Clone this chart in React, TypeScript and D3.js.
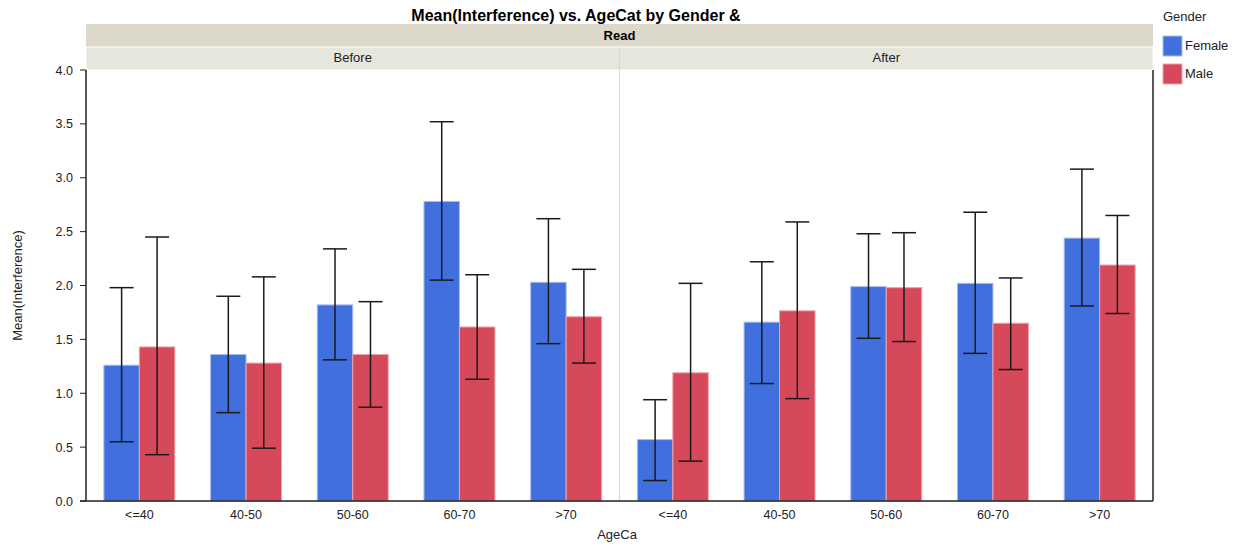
import React from "react";
import * as d3 from "d3";

const ageCats = ["<=40", "40-50", "50-60", "60-70", ">70"];
const panels = ["Before", "After"];
const genders = ["Female", "Male"];

// mean, upper, lower per age category
const beforeFemale = [1.26, 1.36, 1.82, 2.78, 2.03];
const beforeFemaleHi = [1.98, 1.9, 2.34, 3.52, 2.62];
const beforeFemaleLo = [0.55, 0.82, 1.31, 2.05, 1.46];
const beforeMale = [1.43, 1.28, 1.36, 1.615, 1.71];
const beforeMaleHi = [2.45, 2.08, 1.85, 2.1, 2.15];
const beforeMaleLo = [0.43, 0.49, 0.87, 1.13, 1.28];

const afterFemale = [0.57, 1.66, 1.99, 2.02, 2.44];
const afterFemaleHi = [0.94, 2.22, 2.48, 2.68, 3.08];
const afterFemaleLo = [0.19, 1.09, 1.51, 1.37, 1.81];
const afterMale = [1.19, 1.765, 1.98, 1.65, 2.19];
const afterMaleHi = [2.02, 2.59, 2.49, 2.07, 2.65];
const afterMaleLo = [0.37, 0.95, 1.48, 1.22, 1.74];

const yTicks = [0, 0.5, 1, 1.5, 2, 2.5, 3, 3.5, 4];

const colors: Record<string, string> = { Female: "#4170de", Male: "#d6495a" };

type Row = { panel: string; age: string; gender: string; mean: number; hi: number; lo: number };

const rows: Row[] = [];
ageCats.forEach((age, i) => {
  rows.push({ panel: "Before", age, gender: "Female", mean: beforeFemale[i], hi: beforeFemaleHi[i], lo: beforeFemaleLo[i] });
  rows.push({ panel: "Before", age, gender: "Male", mean: beforeMale[i], hi: beforeMaleHi[i], lo: beforeMaleLo[i] });
  rows.push({ panel: "After", age, gender: "Female", mean: afterFemale[i], hi: afterFemaleHi[i], lo: afterFemaleLo[i] });
  rows.push({ panel: "After", age, gender: "Male", mean: afterMale[i], hi: afterMaleHi[i], lo: afterMaleLo[i] });
});

const font = "'Liberation Sans', Arial, sans-serif";

export default function App() {
  const width = 1246;
  const height = 547;
  const left = 86;
  const right = 1153;
  const top = 70;
  const bottom = 501;

  const yScale = d3.scaleLinear().domain([0, 4]).range([bottom, top]);
  const panelScale = d3.scaleBand().domain(panels).range([left, right]);
  const xScale = d3
    .scaleBand()
    .domain(ageCats)
    .range([0, panelScale.bandwidth()])
    .paddingInner(0.335)
    .paddingOuter(0.1675);
  const gScale = d3.scaleBand().domain(genders).range([0, xScale.bandwidth()]);
  const capW = 24;

  return (
    <svg width={width} height={height} style={{ position: "absolute", left: 0, top: 0 }} fontFamily={font}>
      <rect width={width} height={height} fill="#fff" />
      {/* title */}
      <text x={576} y={21} textAnchor="middle" fontSize={16} fontWeight="bold" fill="#000">
        Mean(Interference) vs. AgeCat by Gender &amp;
      </text>
      {/* strip headers */}
      <rect x={left} y={24} width={right - left} height={23} fill="#dcd9ca" />
      <text x={(left + right) / 2} y={40} textAnchor="middle" fontSize={13} fontWeight="bold" fill="#000">
        Read
      </text>
      {panels.map((p) => (
        <g key={p}>
          <rect x={panelScale(p)!} y={47} width={panelScale.bandwidth()} height={23} fill="#e6e6dd" stroke="#fff" strokeWidth={1} />
          <text x={panelScale(p)! + panelScale.bandwidth() / 2} y={62} textAnchor="middle" fontSize={13} fill="#222">
            {p}
          </text>
        </g>
      ))}
      {/* panel separator */}
      <line x1={panelScale("After")!} x2={panelScale("After")!} y1={47} y2={bottom} stroke="#d8d8d8" strokeWidth={1} />
      {/* bars */}
      {rows.map((r, i) => {
        const x = panelScale(r.panel)! + xScale(r.age)! + gScale(r.gender)!;
        const cx = x + gScale.bandwidth() / 2;
        return (
          <g key={i}>
            <rect
              x={x}
              y={yScale(r.mean)}
              width={gScale.bandwidth()}
              height={yScale(0) - yScale(r.mean)}
              fill={colors[r.gender]}
              stroke={r.gender === "Female" ? "#a9bdf0" : "#eba3ac"}
              strokeWidth={1}
            />
            <g stroke="#1a1a1a" strokeWidth={1.5}>
              <line x1={cx} x2={cx} y1={yScale(r.hi)} y2={yScale(r.lo)} />
              <line x1={cx - capW / 2} x2={cx + capW / 2} y1={yScale(r.hi)} y2={yScale(r.hi)} />
              <line x1={cx - capW / 2} x2={cx + capW / 2} y1={yScale(r.lo)} y2={yScale(r.lo)} />
            </g>
          </g>
        );
      })}
      {/* axes frame */}
      <line x1={left} x2={left} y1={top} y2={bottom} stroke="#222" strokeWidth={1.5} />
      <line x1={left - 6} x2={right} y1={bottom} y2={bottom} stroke="#222" strokeWidth={1.5} />
      <line x1={right} x2={right} y1={top} y2={bottom} stroke="#222" strokeWidth={1.5} />
      {yTicks.map((t) => (
        <g key={t}>
          <line x1={left - 6} x2={left} y1={yScale(t)} y2={yScale(t)} stroke="#222" strokeWidth={1} />
          <text x={left - 13} y={yScale(t) + 4.5} textAnchor="end" fontSize={12.5} fill="#222">
            {t.toFixed(1)}
          </text>
        </g>
      ))}
      {panels.map((p) =>
        ageCats.map((a) => (
          <text
            key={p + a}
            x={panelScale(p)! + xScale(a)! + xScale.bandwidth() / 2}
            y={519}
            textAnchor="middle"
            fontSize={12.5}
            fill="#222"
          >
            {a}
          </text>
        ))
      )}
      <text x={617} y={539} textAnchor="middle" fontSize={13} fill="#222">
        AgeCa
      </text>
      <text transform={`translate(22, ${(top + bottom) / 2}) rotate(-90)`} textAnchor="middle" fontSize={13} fill="#222">
        Mean(Interference)
      </text>
      {/* legend */}
      <text x={1163} y={21} fontSize={13} fill="#222">
        Gender
      </text>
      {genders.map((g, i) => (
        <g key={g}>
          <rect x={1163} y={36 + i * 28} width={19} height={20} fill={colors[g]} stroke={g === "Female" ? "#a9bdf0" : "#eba3ac"} />
          <text x={1185} y={50 + i * 28} fontSize={13} fill="#222">
            {g}
          </text>
        </g>
      ))}
    </svg>
  );
}
